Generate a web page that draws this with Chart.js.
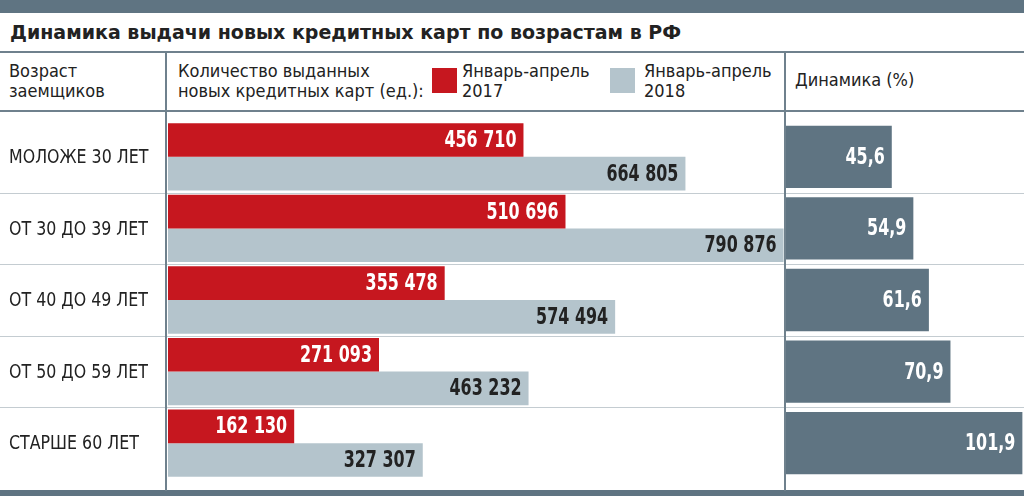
<!DOCTYPE html>
<html>
<head>
<meta charset="utf-8">
<script src="https://cdn.jsdelivr.net/npm/chart.js@4"></script>
<style>
  body { margin: 0; background: #fff; }
  #wrap { position: relative; width: 1024px; height: 496px; overflow: hidden; font-family: "DejaVu Sans Condensed", "DejaVu Sans", sans-serif; color: #222; }
  .abs { position: absolute; }
  .hline { position: absolute; left: 0; width: 1024px; }
  .vline { position: absolute; top: 52px; height: 439px; width: 2px; background: #6f818d; }
  .sep { height: 1px; background: #c4ccd1; }
  #title { left: 10px; top: 21px; font: bold 19px "DejaVu Sans", sans-serif; color: #222; white-space: nowrap; }
  .head { font-size: 18px; line-height: 20px; white-space: nowrap; }
  .sq { position: absolute; width: 25px; height: 25px; }
  canvas { position: absolute; }
</style>
</head>
<body>
<div id="wrap">
  <div class="hline" style="top:0;height:13px;background:#5f7482"></div>
  <div id="title" class="abs">Динамика выдачи новых кредитных карт по возрастам в РФ</div>
  <div class="hline" style="top:51px;height:2px;background:#6f818d"></div>
  <div class="hline" style="top:110px;height:2px;background:#6f818d"></div>
  <div class="hline sep" style="top:193px"></div>
  <div class="hline sep" style="top:264px"></div>
  <div class="hline sep" style="top:336px"></div>
  <div class="hline sep" style="top:407px"></div>
  <div class="hline" style="top:490px;height:6px;background:#5f7482"></div>
  <div class="vline" style="left:165px"></div>
  <div class="vline" style="left:784px"></div>

  <div class="abs head" style="left:9px;top:61px">Возраст<br>заемщиков</div>
  <div class="abs head" style="left:178px;top:61px">Количество выданных<br>новых кредитных карт (ед.):</div>
  <div class="sq" style="left:432px;top:68px;background:#c6171f"></div>
  <div class="abs head" id="lg1" style="left:462px;top:61px"></div>
  <div class="sq" style="left:610px;top:68px;background:#b4c4cc"></div>
  <div class="abs head" id="lg2" style="left:644px;top:61px"></div>
  <div class="abs head" style="left:795px;top:70px">Динамика (%)</div>

  <canvas id="leftChart" style="left:0;top:121px"></canvas>
  <canvas id="rightChart" style="left:786px;top:121px"></canvas>
</div>
<script>
'use strict';
let ageGroups = ['МОЛОЖЕ 30 ЛЕТ', 'ОТ 30 ДО 39 ЛЕТ', 'ОТ 40 ДО 49 ЛЕТ', 'ОТ 50 ДО 59 ЛЕТ', 'СТАРШЕ 60 ЛЕТ'];
let seriesNames = ['Январь-апрель\n2017', 'Январь-апрель\n2018'];
let cards2017 = [456710, 510696, 355478, 271093, 162130];
let cards2018 = [664805, 790876, 574494, 463232, 327307];
let growth = [45.6, 54.9, 61.6, 70.9, 101.9];

document.getElementById('lg1').innerHTML = seriesNames[0].replace('\n', '<br>');
document.getElementById('lg2').innerHTML = seriesNames[1].replace('\n', '<br>');

Chart.defaults.animation = false;
Chart.defaults.font.family = '"DejaVu Sans Condensed", "DejaVu Sans", sans-serif';

function fmtThousands(v) {
    return String(v).replace(/\B(?=(\d{3})+(?!\d))/g, ' ');
}
function fmtPercent(v) {
    return v.toFixed(1).replace('.', ',');
}

// squeezed text, there is no narrow font installed
function narrowText(ctx, text, x, y, squeeze) {
    ctx.save();
    ctx.translate(x, y);
    ctx.scale(squeeze, 1);
    ctx.fillText(text, 0, 0);
    ctx.restore();
}

// writes the value inside the end of every bar
let barLabels = {
    id: 'barLabels',
    afterDatasetsDraw(chart, args, opts) {
        let ctx = chart.ctx;
        ctx.save();
        ctx.font = 'bold 23px "DejaVu Sans Condensed", "DejaVu Sans", sans-serif';
        ctx.textAlign = 'right';
        ctx.textBaseline = 'middle';
        chart.data.datasets.forEach((ds, di) => {
            let meta = chart.getDatasetMeta(di);
            meta.data.forEach((bar, i) => {
                ctx.fillStyle = ds.labelColor;
                narrowText(ctx, opts.format(ds.data[i]), bar.x - 7, bar.y + 1, 0.77);
            });
        });
        ctx.restore();
    }
};

// age group names in the left column, placed by the category scale
let groupLabels = {
    id: 'groupLabels',
    afterDraw(chart) {
        let ctx = chart.ctx;
        let yScale = chart.scales.y;
        ctx.save();
        ctx.font = '20px "DejaVu Sans Condensed", "DejaVu Sans", sans-serif';
        ctx.fillStyle = '#222';
        ctx.textAlign = 'left';
        ctx.textBaseline = 'middle';
        chart.data.labels.forEach((name, i) => {
            narrowText(ctx, name, 9, yScale.getPixelForValue(i) + 1, 0.88);
        });
        ctx.restore();
    }
};

let leftEl = document.getElementById('leftChart');
leftEl.width = 786; leftEl.height = 358;
leftEl.style.width = '786px'; leftEl.style.height = '358px';

new Chart(leftEl, {
    type: 'bar',
    data: {
        labels: ageGroups,
        datasets: [{
            label: seriesNames[0],
            data: cards2017,
            backgroundColor: '#c6171f',
            labelColor: '#ffffff',
            categoryPercentage: 0.94,
            barPercentage: 1
        }, {
            label: seriesNames[1],
            data: cards2018,
            backgroundColor: '#b4c4cc',
            labelColor: '#222222',
            categoryPercentage: 0.94,
            barPercentage: 1
        }]
    },
    options: {
        indexAxis: 'y',
        responsive: false,
        maintainAspectRatio: false,
        layout: { padding: { left: 168, right: 0, top: 0, bottom: 0 } },
        plugins: {
            legend: { display: false },
            tooltip: { enabled: false },
            barLabels: { format: fmtThousands }
        },
        scales: {
            x: { display: false, min: 0, max: 794000 },
            y: { display: false }
        }
    },
    plugins: [barLabels, groupLabels]
});

let rightEl = document.getElementById('rightChart');
rightEl.width = 238; rightEl.height = 358;
rightEl.style.width = '238px'; rightEl.style.height = '358px';

new Chart(rightEl, {
    type: 'bar',
    data: {
        labels: ageGroups,
        datasets: [{
            label: 'Динамика (%)',
            data: growth,
            backgroundColor: '#5f7482',
            labelColor: '#ffffff',
            categoryPercentage: 1,
            barPercentage: 0.87
        }]
    },
    options: {
        indexAxis: 'y',
        responsive: false,
        maintainAspectRatio: false,
        layout: { padding: 0 },
        plugins: {
            legend: { display: false },
            tooltip: { enabled: false },
            barLabels: { format: fmtPercent }
        },
        scales: {
            x: { display: false, min: 0, max: 102.6 },
            y: { display: false }
        }
    },
    plugins: [barLabels]
});
</script>
</body>
</html>
